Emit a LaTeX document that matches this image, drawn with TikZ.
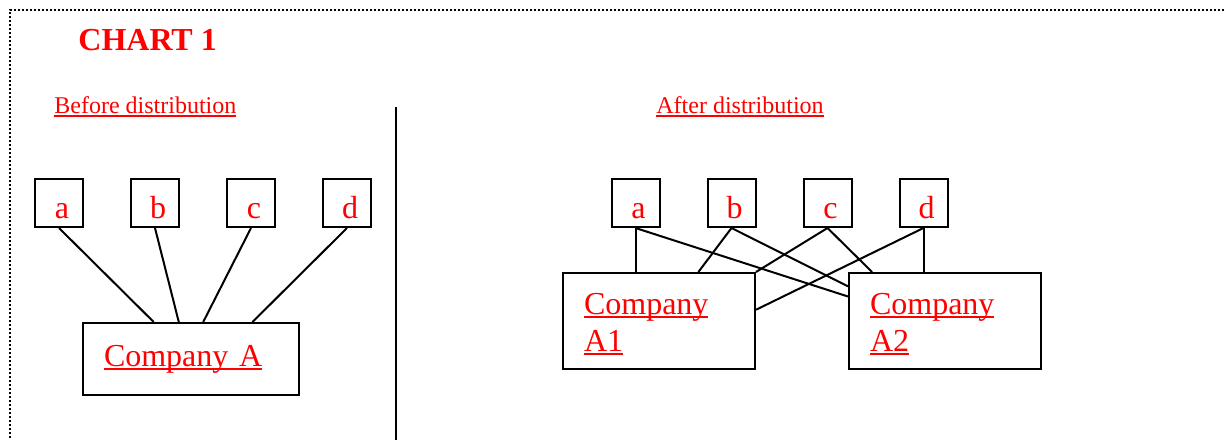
\documentclass[tikz,border=0pt]{standalone}
\usepackage{fontspec}
\setmainfont{Liberation Serif}
\usepackage{xcolor}
\definecolor{cRed}{HTML}{FF0000}
\definecolor{cLine}{HTML}{000000}
\usepackage{tikz}
\usetikzlibrary{positioning,calc}
\newcommand{\ulred}[1]{\leavevmode\setbox0\hbox{#1}\rlap{\vrule height -1.1pt depth 2pt width \wd0}\box0}
\tikzset{
  box-letter/.style={draw=cLine,line width=1pt,minimum size=24pt,inner sep=0pt,
    text height=19pt,text depth=4pt,font=\fontsize{16}{18}\selectfont,text=cRed},
  box-company/.style={draw=cLine,line width=1pt,inner xsep=10.5pt,inner ysep=0pt,
    align=left,font=\fontsize{16}{18.5}\selectfont,text=cRed},
  box-one/.style={box-company,minimum width=108pt,minimum height=36pt,text width=87pt},
  box-two/.style={box-company,minimum width=96pt,minimum height=48pt,text width=75pt,
    text height=13.5pt},
  link/.style={draw=cLine,line width=1pt},
  heading/.style={text=cRed,font=\fontsize{12}{14}\selectfont,inner sep=0pt,anchor=base west},
  title/.style={heading,font=\fontsize{16}{18}\selectfont\bfseries},
  frame-line/.style={draw=cLine,line width=1pt,dash pattern=on 1pt off 1pt},
  divider/.style={draw=cLine,line width=1pt},
}
\begin{document}
\begin{tikzpicture}[x=0.5pt,y=-0.5pt,node distance=23pt]
  \useasboundingbox (0,0) rectangle (1224,440);
  \draw[frame-line] (1224,10) -| (10,440);
  \node[title]   (chart)  at (78,50)  {CHART 1};
  \node[heading] (before) at (54,113) {\ulred{Before distribution}};
  \node[heading] (after)  at (656,113) {\ulred{After distribution}};
  \draw[divider] (396,107) -- (396,440);

  % before
  \node[box-letter]             (la) at (59,203) {\hspace*{3pt}a};
  \node[box-letter,right=of la] (lb) {\hspace*{3pt}b};
  \node[box-letter,right=of lb] (lc) {\hspace*{3pt}c};
  \node[box-letter,right=of lc] (ld) {\hspace*{3pt}d};
  \node[box-one] (ca) at (191,359) {\ulred{Company A}};
  \draw[link] (la.south) -- ($(ca.north west)!0.329!(ca.north east)$);
  \draw[link] (lb.south) -- ($(ca.north west)!0.444!(ca.north east)$);
  \draw[link] (lc.south) -- ($(ca.north west)!0.556!(ca.north east)$);
  \draw[link] (ld.south) -- ($(ca.north west)!0.782!(ca.north east)$);

  % after
  \node[box-letter]             (ra) at (635.5,203) {\hspace*{3pt}a};
  \node[box-letter,right=of ra] (rb) {\hspace*{3pt}b};
  \node[box-letter,right=of rb] (rc) {\hspace*{3pt}c};
  \node[box-letter,right=of rc] (rd) {\hspace*{3pt}d};
  \node[box-two]                     (a1) at (659,321) {\ulred{Company}\\\ulred{A1}};
  \node[box-two,right=46pt of a1]    (a2) {\ulred{Company}\\\ulred{A2}};
  \draw[link] (ra.south) -- (ra.south |- a1.north);
  \draw[link] (ra.south) -- ($(a2.north west)!0.25!(a2.south west)$);
  \draw[link] (rb.south) -- ($(a1.north west)!0.703!(a1.north east)$);
  \draw[link] (rb.south) -- ($(a2.north west)!0.146!(a2.south west)$);
  \draw[link] (rc.south) -- (a1.north east);
  \draw[link] (rc.south) -- ($(a2.north west)!0.124!(a2.north east)$);
  \draw[link] (rd.south) -- (rd.south |- a2.north);
  \draw[link] (rd.south) -- ($(a1.north east)!0.385!(a1.south east)$);
\end{tikzpicture}
\end{document}
